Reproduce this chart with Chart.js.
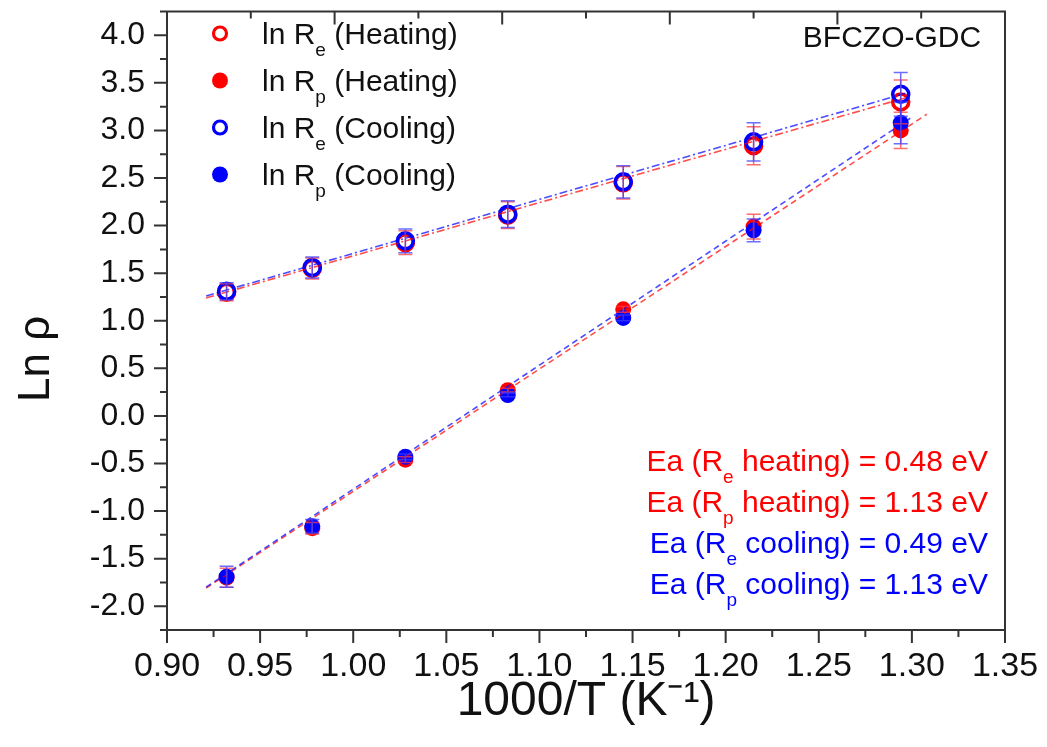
<!DOCTYPE html>
<html>
<head>
<meta charset="utf-8">
<script src="https://cdn.jsdelivr.net/npm/chart.js@4.4.1/dist/chart.umd.min.js"></script>
<style>
  html, body { margin: 0; padding: 0; background: #fff; }
  #wrap { width: 1047px; height: 747px; }
</style>
</head>
<body>
<div id="wrap"><canvas id="myChart"></canvas></div>
<script>
// x values: 1000/T
const invT = [0.932, 0.978, 1.028, 1.083, 1.145, 1.215, 1.294];

// ln Re / ln Rp, heating and cooling
const lnReHeat = [1.30, 1.55, 1.82, 2.11, 2.45, 2.84, 3.30];
const lnRpHeat = [-1.70, -1.18, -0.46, 0.27, 1.12, 1.99, 3.00];
const lnReCool = [1.31, 1.56, 1.84, 2.12, 2.46, 2.88, 3.38];
const lnRpCool = [-1.69, -1.16, -0.43, 0.22, 1.03, 1.95, 3.08];

// error bars (+/-)
const errReHeat = [0.09, 0.11, 0.125, 0.14, 0.17, 0.20, 0.23];
const errRpHeat = [0.10, 0.06, 0.03, 0.02, 0.03, 0.13, 0.19];
const errReCool = [0.09, 0.11, 0.125, 0.14, 0.17, 0.20, 0.23];
const errRpCool = [0.11, 0.07, 0.03, 0.02, 0.03, 0.12, 0.22];

// linear fits (end points)
const fitReHeatX = [0.921, 1.298], fitReHeatY = [1.24, 3.35];
const fitReCoolX = [0.921, 1.300], fitReCoolY = [1.26, 3.41];
const fitRpHeatX = [0.921, 1.308], fitRpHeatY = [-1.81, 3.17];
const fitRpCoolX = [0.921, 1.300], fitRpCoolY = [-1.80, 3.14];

// axes
const xMin = 0.90, xMax = 1.35, xStep = 0.025, xMajor = 0.05;
const yMin = -2.25, yMax = 4.25, yStep = 0.25, yMajor = 0.5;
const topTickCount = 10; // top frame ticks, no labels

const RED = '#ff0000';
const BLUE = '#0000ff';
const FONT = '"Liberation Sans", Arial, Helvetica, sans-serif';

const toPts = (xs, ys) => xs.map((x, i) => ({ x: x, y: ys[i] }));
const isMult = (v, m) => Math.abs(v / m - Math.round(v / m)) < 1e-6;

function fitLine(xs, ys, color, dash, order) {
  return {
    type: 'line', data: toPts(xs, ys), borderColor: color, borderWidth: 1.6,
    borderDash: dash, pointRadius: 0, fill: false, order: order, errors: null
  };
}

function pointSet(ys, errs, color, open, order) {
  return {
    type: 'scatter', data: toPts(invT, ys), errors: errs, errColor: color,
    pointStyle: 'circle', pointRadius: 8,
    backgroundColor: open ? 'rgba(0,0,0,0)' : color,
    borderColor: color, borderWidth: open ? 3.5 : 0, order: order
  };
}

// error bars drawn through the scales
const errorBars = {
  id: 'errorBars',
  afterDatasetsDraw(chart) {
    const ctx = chart.ctx, xs = chart.scales.x, ys = chart.scales.y;
    ctx.save();
    chart.data.datasets.forEach(ds => {
      if (!ds.errors) return;
      ctx.strokeStyle = ds.errColor === RED ? 'rgba(255,60,60,0.75)' : 'rgba(60,60,255,0.75)';
      ctx.lineWidth = 1.5;
      ds.data.forEach((p, i) => {
        const e = ds.errors[i];
        const px = xs.getPixelForValue(p.x);
        const top = ys.getPixelForValue(p.y + e);
        const bot = ys.getPixelForValue(p.y - e);
        ctx.beginPath();
        ctx.moveTo(px, top); ctx.lineTo(px, bot);
        ctx.moveTo(px - 7, top); ctx.lineTo(px + 7, top);
        ctx.moveTo(px - 7, bot); ctx.lineTo(px + 7, bot);
        ctx.stroke();
      });
    });
    ctx.restore();
  }
};

// text with subscripts
function drawRich(ctx, parts, x, y, size, align) {
  const subSize = Math.round(size * 0.62);
  const widths = parts.map(p => {
    ctx.font = (p[1] ? subSize : size) + 'px ' + FONT;
    return ctx.measureText(p[0]).width;
  });
  const total = widths.reduce((a, b) => a + b, 0);
  let cx = align === 'right' ? x - total : align === 'center' ? x - total / 2 : x;
  ctx.textAlign = 'left';
  ctx.textBaseline = 'alphabetic';
  parts.forEach((p, i) => {
    ctx.font = (p[1] ? subSize : size) + 'px ' + FONT;
    ctx.fillText(p[0], cx, p[1] ? y + size * 0.4 : y);
    cx += widths[i];
  });
}

const legendItems = [
  { color: RED, open: true, parts: [['ln R', 0], ['e', 1], [' (Heating)', 0]] },
  { color: RED, open: false, parts: [['ln R', 0], ['p', 1], [' (Heating)', 0]] },
  { color: BLUE, open: true, parts: [['ln R', 0], ['e', 1], [' (Cooling)', 0]] },
  { color: BLUE, open: false, parts: [['ln R', 0], ['p', 1], [' (Cooling)', 0]] }
];

const eaItems = [
  { color: RED, parts: [['Ea (R', 0], ['e', 1], [' heating) = 0.48 eV', 0]] },
  { color: RED, parts: [['Ea (R', 0], ['p', 1], [' heating) = 1.13 eV', 0]] },
  { color: BLUE, parts: [['Ea (R', 0], ['e', 1], [' cooling) = 0.49 eV', 0]] },
  { color: BLUE, parts: [['Ea (R', 0], ['p', 1], [' cooling) = 1.13 eV', 0]] }
];

// frame, tick marks, legend and annotations
const frameAndText = {
  id: 'frameAndText',
  afterDraw(chart) {
    const ctx = chart.ctx, ca = chart.chartArea;
    const xs = chart.scales.x, ys = chart.scales.y;
    ctx.save();
    ctx.strokeStyle = '#333';
    ctx.lineWidth = 2;
    // top and right frame
    ctx.beginPath();
    ctx.moveTo(ca.left, ca.top); ctx.lineTo(ca.right, ca.top); ctx.lineTo(ca.right, ca.bottom);
    ctx.stroke();
    ctx.beginPath();
    // bottom ticks (outward)
    xs.ticks.forEach(t => {
      const px = xs.getPixelForValue(t.value);
      const len = isMult(t.value, xMajor) ? 13 : 7;
      ctx.moveTo(px, ca.bottom); ctx.lineTo(px, ca.bottom + len);
    });
    // left ticks (outward)
    ys.ticks.forEach(t => {
      const py = ys.getPixelForValue(t.value);
      const len = isMult(t.value, yMajor) ? 13 : 7;
      ctx.moveTo(ca.left, py); ctx.lineTo(ca.left - len, py);
    });
    // top ticks (inward)
    for (let i = 1; i < topTickCount; i++) {
      const px = xs.getPixelForValue(xMin + (xMax - xMin) * i / topTickCount);
      const len = i % 2 === 0 ? 13 : 7;
      ctx.moveTo(px, ca.top); ctx.lineTo(px, ca.top + len);
    }
    ctx.stroke();

    // y axis title
    ctx.save();
    ctx.translate(49, ys.getPixelForValue(0.6));
    ctx.rotate(-Math.PI / 2);
    ctx.fillStyle = '#111';
    ctx.font = '44px ' + FONT;
    ctx.textAlign = 'center';
    ctx.textBaseline = 'alphabetic';
    ctx.fillText('Ln \u03C1', 0, 0);
    ctx.restore();

    // legend
    legendItems.forEach((it, i) => {
      const my = ca.top + 22 + 47 * i;
      const mx = ca.left + 53;
      ctx.beginPath();
      if (it.open) {
        ctx.arc(mx, my, 6.5, 0, Math.PI * 2);
        ctx.strokeStyle = it.color; ctx.lineWidth = 3.2; ctx.stroke();
      } else {
        ctx.arc(mx, my, 8, 0, Math.PI * 2);
        ctx.fillStyle = it.color; ctx.fill();
      }
      ctx.fillStyle = '#111';
      drawRich(ctx, it.parts, ca.left + 95, my + 10, 30, 'left');
    });

    // sample name
    ctx.fillStyle = '#111';
    ctx.font = '30px ' + FONT;
    ctx.textAlign = 'center';
    ctx.textBaseline = 'alphabetic';
    ctx.fillText('BFCZO-GDC', ca.left + 725, ca.top + 35);

    // activation energies
    eaItems.forEach((it, i) => {
      ctx.fillStyle = it.color;
      drawRich(ctx, it.parts, ca.right - 17, ca.top + 459 + 41 * i, 30, 'right');
    });
    ctx.restore();
  }
};

const ctx = document.getElementById('myChart').getContext('2d');
new Chart(ctx, {
  data: {
    datasets: [
      fitLine(fitReHeatX, fitReHeatY, 'rgba(255,0,0,0.7)', [8, 3, 2, 3], 2),
      fitLine(fitReCoolX, fitReCoolY, 'rgba(0,0,255,0.7)', [8, 3, 2, 3], 1),
      fitLine(fitRpHeatX, fitRpHeatY, 'rgba(255,0,0,0.7)', [6, 4], 2),
      fitLine(fitRpCoolX, fitRpCoolY, 'rgba(0,0,255,0.7)', [6, 4], 1),
      pointSet(lnReHeat, errReHeat, RED, true, 6),
      pointSet(lnRpHeat, errRpHeat, RED, false, 6),
      pointSet(lnReCool, errReCool, BLUE, true, 4),
      pointSet(lnRpCool, errRpCool, BLUE, false, 4)
    ]
  },
  options: {
    responsive: true,
    maintainAspectRatio: false,
    devicePixelRatio: 1,
    animation: false,
    layout: { padding: { top: 10, right: 42, left: 0, bottom: 0 } },
    plugins: { legend: { display: false }, tooltip: { enabled: false } },
    scales: {
      x: {
        type: 'linear', position: 'bottom', min: xMin, max: xMax,
        afterFit: s => { s.height = 117; s.paddingLeft = 0; s.paddingRight = 0; },
        grid: { display: false, drawTicks: false },
        border: { display: true, color: '#333', width: 2 },
        ticks: {
          stepSize: xStep, autoSkip: false, maxRotation: 0, padding: 16,
          color: '#111', font: { family: FONT, size: 34 },
          callback: v => isMult(v, xMajor) ? v.toFixed(2) : ''
        },
        title: {
          display: true, text: '1000/T (K\u207B\u00B9)', color: '#111',
          font: { family: FONT, size: 48 }, padding: { top: 0, bottom: 16 }
        }
      },
      y: {
        type: 'linear', position: 'left', min: yMin, max: yMax,
        afterFit: s => { s.width = 167; s.paddingTop = 0; s.paddingBottom = 0; },
        grid: { display: false, drawTicks: false },
        border: { display: true, color: '#333', width: 2 },
        ticks: {
          stepSize: yStep, autoSkip: false, padding: 22,
          color: '#111', font: { family: FONT, size: 32 },
          callback: v => isMult(v, yMajor) ? v.toFixed(1) : ''
        },
        title: { display: false }
      }
    }
  },
  plugins: [errorBars, frameAndText]
});
</script>
</body>
</html>
